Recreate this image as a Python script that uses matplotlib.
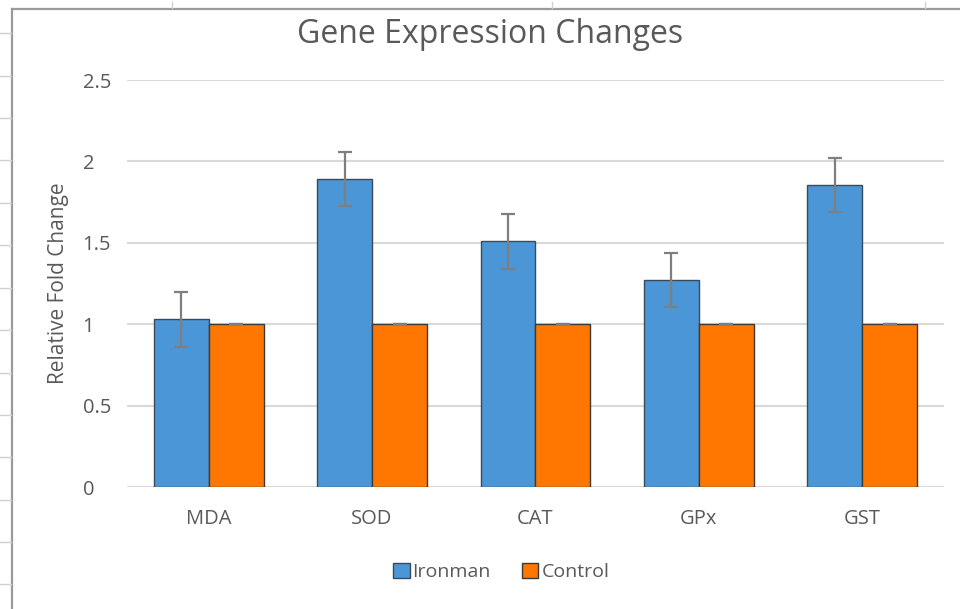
import numpy as np
import matplotlib
matplotlib.use("Agg")
import matplotlib.pyplot as plt
from matplotlib.lines import Line2D

genes = ["MDA", "SOD", "CAT", "GPx", "GST"]
ironman = [1.03, 1.89, 1.51, 1.27, 1.855]
ironman_err = [0.17, 0.165, 0.17, 0.165, 0.165]
control = [1.0, 1.0, 1.0, 1.0, 1.0]
control_err = [0.0, 0.0, 0.0, 0.0, 0.0]

plt.rcParams['font.family'] = ['Open Sans', 'DejaVu Sans']
txt = "#595959"

fig = plt.figure(figsize=(9.6, 6.09), dpi=100)
ax = fig.add_axes([0.1323, 0.2003, 0.851, 0.6683])

x = np.arange(len(genes))
w = 0.336
ekw = dict(ecolor="#7f7f7f", elinewidth=1.6, capsize=5, capthick=1.6)
ax.bar(x - w / 2, ironman, w, yerr=ironman_err, color="#4a96d6",
       edgecolor="#3a4a5a", linewidth=1, label="Ironman", error_kw=ekw, zorder=3)
ax.bar(x + w / 2, control, w, yerr=control_err, color="#ff7700",
       edgecolor="#3a3a3a", linewidth=1, label="Control", error_kw=ekw, zorder=3)

ax.set_xlim(-0.5, 4.5)
ax.set_ylim(0, 2.5)
ax.set_yticks([0, 0.5, 1, 1.5, 2, 2.5])
ax.set_yticklabels(["0", "0.5", "1", "1.5", "2", "2.5"])
ax.set_xticks(x)
ax.set_xticklabels(genes)
ax.grid(axis="y", color="#d9d9d9", linewidth=1.5, zorder=0)
for s in ax.spines.values():
    s.set_visible(False)
ax.tick_params(length=0, labelsize=14.5, colors=txt)
ax.tick_params(axis="x", pad=16)
ax.tick_params(axis="y", pad=32)
for t in ax.get_yticklabels():
    t.set_horizontalalignment("left")
ax.set_ylabel("Relative Fold Change", fontsize=15, color=txt)
ax.yaxis.set_label_coords(-0.071, 0.5)

fig.text(0.51, 0.943, "Gene Expression Changes", ha="center", va="center",
         fontsize=23, color=txt)

leg = ax.legend(loc="center", bbox_to_anchor=(0.522, 0.061), bbox_transform=fig.transFigure,
                ncol=2, frameon=False, fontsize=14, handlelength=0.85, handleheight=0.85,
                handletextpad=0.15, columnspacing=1.6)
for t in leg.get_texts():
    t.set_color(txt)

# worksheet frame behind the chart
fig.add_artist(Line2D([12 / 960, 12 / 960], [0, 1 - 9 / 609], color="#9a9a9a", lw=1.6))
fig.add_artist(Line2D([12 / 960, 1], [1 - 9 / 609, 1 - 9 / 609], color="#9a9a9a", lw=1.6))
for yy in [33, 76, 118, 160, 203, 245, 288, 330, 373, 415, 457, 500, 542, 584]:
    fig.add_artist(Line2D([0, 11 / 960], [1 - yy / 609] * 2, color="#d0d0d0", lw=1))
for xx in [172, 552, 925]:
    fig.add_artist(Line2D([xx / 960] * 2, [1 - 2 / 609, 1 - 8 / 609], color="#d0d0d0", lw=1))

fig.savefig("out.png", dpi=100)
